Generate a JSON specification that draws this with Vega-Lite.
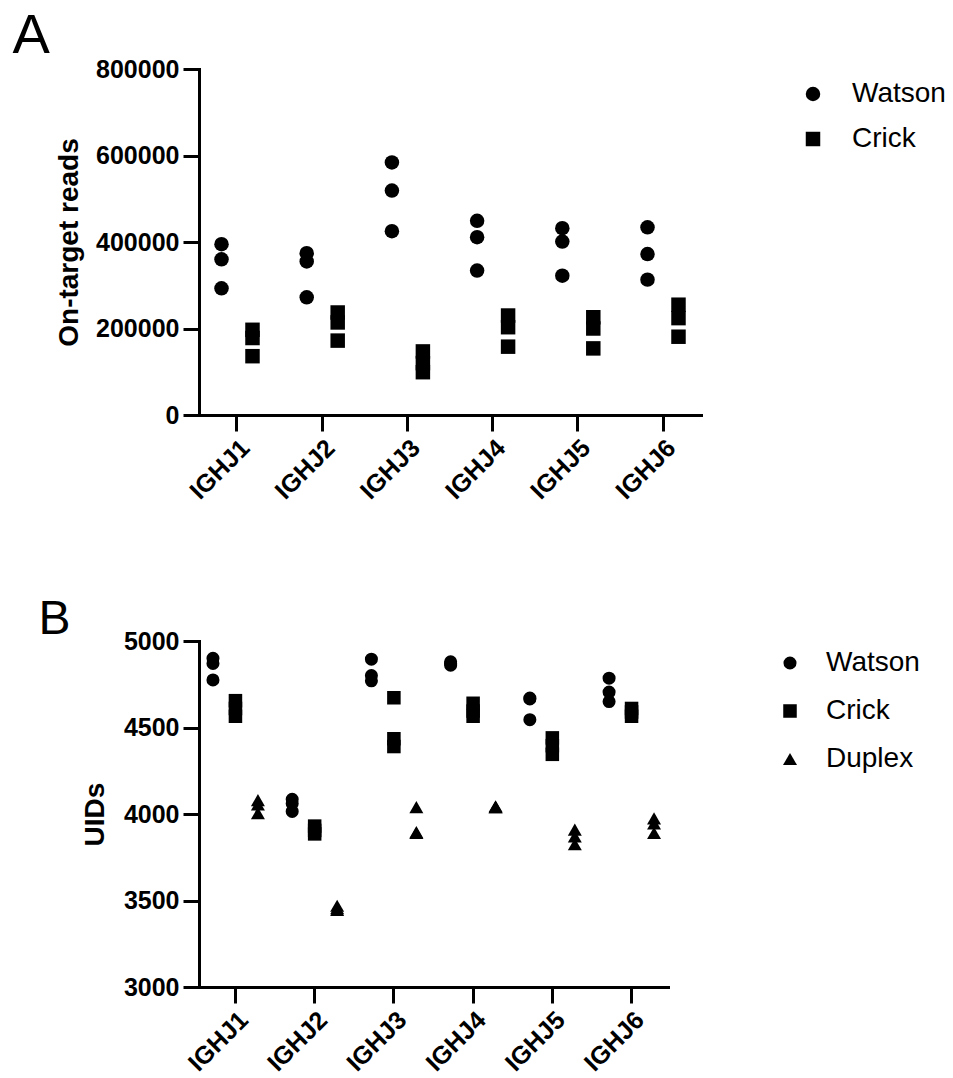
{
  "$schema": "https://vega.github.io/schema/vega-lite/v6.json",
  "padding": {"left": 12, "top": 8, "right": 2, "bottom": 5},
  "background": "white",
  "config": {
    "font": "Liberation Sans",
    "view": {"stroke": null},
    "axis": {
      "domainColor": "black", "domainWidth": 3, "domainCap": "square",
      "tickColor": "black", "tickWidth": 3, "tickSize": 16,
      "labelFontSize": 25, "labelFontWeight": "bold", "labelColor": "black", "labelPadding": 4,
      "titleFontSize": 28, "titleFontWeight": "bold", "titleColor": "black",
      "grid": false
    },
    "legend": {
      "title": null, "padding": 0, "labelFontSize": 28, "labelColor": "black",
      "labelFont": "Liberation Sans", "symbolFillColor": "black", "symbolStrokeColor": "black",
      "symbolType": "circle"
    },
    "title": {"font": "Liberation Sans", "fontWeight": "normal", "color": "black"}
  },
  "resolve": {
    "scale": {"x": "independent", "xOffset": "independent", "y": "independent", "shape": "independent", "size": "independent"},
    "legend": {"shape": "independent", "size": "independent"}
  },
  "datasets": {
    "a": [
      {"gene": "IGHJ1", "strand": "Watson", "reads": 395000},
      {"gene": "IGHJ1", "strand": "Watson", "reads": 360000},
      {"gene": "IGHJ1", "strand": "Watson", "reads": 293000},
      {"gene": "IGHJ1", "strand": "Crick", "reads": 197000},
      {"gene": "IGHJ1", "strand": "Crick", "reads": 178000},
      {"gene": "IGHJ1", "strand": "Crick", "reads": 136000},
      {"gene": "IGHJ2", "strand": "Watson", "reads": 374000},
      {"gene": "IGHJ2", "strand": "Watson", "reads": 355000},
      {"gene": "IGHJ2", "strand": "Watson", "reads": 272000},
      {"gene": "IGHJ2", "strand": "Crick", "reads": 237000},
      {"gene": "IGHJ2", "strand": "Crick", "reads": 214000},
      {"gene": "IGHJ2", "strand": "Crick", "reads": 172000},
      {"gene": "IGHJ3", "strand": "Watson", "reads": 584000},
      {"gene": "IGHJ3", "strand": "Watson", "reads": 519000},
      {"gene": "IGHJ3", "strand": "Watson", "reads": 425000},
      {"gene": "IGHJ3", "strand": "Crick", "reads": 147000},
      {"gene": "IGHJ3", "strand": "Crick", "reads": 120000},
      {"gene": "IGHJ3", "strand": "Crick", "reads": 99000},
      {"gene": "IGHJ4", "strand": "Watson", "reads": 449000},
      {"gene": "IGHJ4", "strand": "Watson", "reads": 411000},
      {"gene": "IGHJ4", "strand": "Watson", "reads": 334000},
      {"gene": "IGHJ4", "strand": "Crick", "reads": 230000},
      {"gene": "IGHJ4", "strand": "Crick", "reads": 203000},
      {"gene": "IGHJ4", "strand": "Crick", "reads": 158000},
      {"gene": "IGHJ5", "strand": "Watson", "reads": 432000},
      {"gene": "IGHJ5", "strand": "Watson", "reads": 401000},
      {"gene": "IGHJ5", "strand": "Watson", "reads": 322000},
      {"gene": "IGHJ5", "strand": "Crick", "reads": 226000},
      {"gene": "IGHJ5", "strand": "Crick", "reads": 200000},
      {"gene": "IGHJ5", "strand": "Crick", "reads": 154000},
      {"gene": "IGHJ6", "strand": "Watson", "reads": 434000},
      {"gene": "IGHJ6", "strand": "Watson", "reads": 372000},
      {"gene": "IGHJ6", "strand": "Watson", "reads": 313000},
      {"gene": "IGHJ6", "strand": "Crick", "reads": 255000},
      {"gene": "IGHJ6", "strand": "Crick", "reads": 224000},
      {"gene": "IGHJ6", "strand": "Crick", "reads": 181000}
    ],
    "b": [
      {"gene": "IGHJ1", "strand": "Watson", "uids": 4900},
      {"gene": "IGHJ1", "strand": "Watson", "uids": 4870},
      {"gene": "IGHJ1", "strand": "Watson", "uids": 4775},
      {"gene": "IGHJ1", "strand": "Crick", "uids": 4655},
      {"gene": "IGHJ1", "strand": "Crick", "uids": 4610},
      {"gene": "IGHJ1", "strand": "Crick", "uids": 4565},
      {"gene": "IGHJ1", "strand": "Duplex", "uids": 4080},
      {"gene": "IGHJ1", "strand": "Duplex", "uids": 4055},
      {"gene": "IGHJ1", "strand": "Duplex", "uids": 4005},
      {"gene": "IGHJ2", "strand": "Watson", "uids": 4085},
      {"gene": "IGHJ2", "strand": "Watson", "uids": 4060},
      {"gene": "IGHJ2", "strand": "Watson", "uids": 4015},
      {"gene": "IGHJ2", "strand": "Crick", "uids": 3930},
      {"gene": "IGHJ2", "strand": "Crick", "uids": 3905},
      {"gene": "IGHJ2", "strand": "Crick", "uids": 3885},
      {"gene": "IGHJ2", "strand": "Duplex", "uids": 3470},
      {"gene": "IGHJ2", "strand": "Duplex", "uids": 3455},
      {"gene": "IGHJ2", "strand": "Duplex", "uids": 3445},
      {"gene": "IGHJ3", "strand": "Watson", "uids": 4895},
      {"gene": "IGHJ3", "strand": "Watson", "uids": 4800},
      {"gene": "IGHJ3", "strand": "Watson", "uids": 4770},
      {"gene": "IGHJ3", "strand": "Crick", "uids": 4672},
      {"gene": "IGHJ3", "strand": "Crick", "uids": 4435},
      {"gene": "IGHJ3", "strand": "Crick", "uids": 4390},
      {"gene": "IGHJ3", "strand": "Duplex", "uids": 4040},
      {"gene": "IGHJ3", "strand": "Duplex", "uids": 3895},
      {"gene": "IGHJ3", "strand": "Duplex", "uids": 3890},
      {"gene": "IGHJ4", "strand": "Watson", "uids": 4880},
      {"gene": "IGHJ4", "strand": "Watson", "uids": 4870},
      {"gene": "IGHJ4", "strand": "Watson", "uids": 4860},
      {"gene": "IGHJ4", "strand": "Crick", "uids": 4640},
      {"gene": "IGHJ4", "strand": "Crick", "uids": 4595},
      {"gene": "IGHJ4", "strand": "Crick", "uids": 4565},
      {"gene": "IGHJ4", "strand": "Duplex", "uids": 4045},
      {"gene": "IGHJ4", "strand": "Duplex", "uids": 4040},
      {"gene": "IGHJ4", "strand": "Duplex", "uids": 4040},
      {"gene": "IGHJ5", "strand": "Watson", "uids": 4670},
      {"gene": "IGHJ5", "strand": "Watson", "uids": 4665},
      {"gene": "IGHJ5", "strand": "Watson", "uids": 4545},
      {"gene": "IGHJ5", "strand": "Crick", "uids": 4440},
      {"gene": "IGHJ5", "strand": "Crick", "uids": 4395},
      {"gene": "IGHJ5", "strand": "Crick", "uids": 4345},
      {"gene": "IGHJ5", "strand": "Duplex", "uids": 3910},
      {"gene": "IGHJ5", "strand": "Duplex", "uids": 3870},
      {"gene": "IGHJ5", "strand": "Duplex", "uids": 3825},
      {"gene": "IGHJ6", "strand": "Watson", "uids": 4785},
      {"gene": "IGHJ6", "strand": "Watson", "uids": 4705},
      {"gene": "IGHJ6", "strand": "Watson", "uids": 4650},
      {"gene": "IGHJ6", "strand": "Crick", "uids": 4610},
      {"gene": "IGHJ6", "strand": "Crick", "uids": 4590},
      {"gene": "IGHJ6", "strand": "Crick", "uids": 4565},
      {"gene": "IGHJ6", "strand": "Duplex", "uids": 3975},
      {"gene": "IGHJ6", "strand": "Duplex", "uids": 3945},
      {"gene": "IGHJ6", "strand": "Duplex", "uids": 3890}
    ]
  },
  "spacing": 92,
  "vconcat": [
    {
      "title": {"text": "A", "anchor": "start", "frame": "bounds", "fontSize": 56, "baseline": "bottom", "offset": -64, "dx": -43},
      "width": 502,
      "height": 346,
      "data": {"name": "a"},
      "mark": {"type": "point", "filled": true, "color": "black", "opacity": 1, "size": 210},
      "encoding": {
        "x": {
          "field": "gene", "type": "nominal", "sort": ["IGHJ1", "IGHJ2", "IGHJ3", "IGHJ4", "IGHJ5", "IGHJ6"],
          "scale": {"paddingInner": 0.2, "paddingOuter": 0.046},
          "axis": {"title": null, "labelAngle": -45}
        },
        "xOffset": {
          "field": "strand", "type": "nominal", "sort": ["Watson", "Crick"],
          "scale": {"padding": 0.6}
        },
        "y": {
          "field": "reads", "type": "quantitative",
          "scale": {"domain": [0, 800000], "nice": false},
          "axis": {"title": "On-target reads", "values": [0, 200000, 400000, 600000, 800000], "format": "d", "titlePadding": 12}
        },
        "shape": {
          "field": "strand", "type": "nominal", "sort": ["Watson", "Crick"],
          "scale": {"domain": ["Watson", "Crick"], "range": ["circle", "square"]},
          "legend": {"orient": "none", "legendX": 600, "legendY": 11, "symbolSize": 210, "labelOffset": 25, "rowPadding": 17}
        }
      }
    },
    {
      "title": {"text": "B", "anchor": "start", "frame": "bounds", "fontSize": 48, "baseline": "bottom", "offset": -63, "dx": -43},
      "width": 469,
      "height": 346,
      "data": {"name": "b"},
      "mark": {"type": "point", "filled": true, "color": "black", "opacity": 1},
      "encoding": {
        "x": {
          "field": "gene", "type": "nominal", "sort": ["IGHJ1", "IGHJ2", "IGHJ3", "IGHJ4", "IGHJ5", "IGHJ6"],
          "scale": {"paddingInner": 0.2, "paddingOuter": 0.06},
          "axis": {"title": null, "labelAngle": -45}
        },
        "xOffset": {
          "field": "strand", "type": "nominal", "sort": ["Watson", "Crick", "Duplex"],
          "scale": {"padding": 0.41}
        },
        "y": {
          "field": "uids", "type": "quantitative",
          "scale": {"domain": [3000, 5000], "nice": false, "zero": false},
          "axis": {"title": "UIDs", "values": [3000, 3500, 4000, 4500, 5000], "format": "d", "titlePadding": 14}
        },
        "shape": {
          "field": "strand", "type": "nominal", "sort": ["Watson", "Crick", "Duplex"],
          "scale": {"domain": ["Watson", "Crick", "Duplex"], "range": ["circle", "square", "triangle-up"]},
          "legend": {"orient": "none", "legendX": 577, "legendY": 8, "labelOffset": 22, "rowPadding": 20}
        },
        "size": {
          "field": "strand", "type": "nominal", "sort": ["Watson", "Crick", "Duplex"],
          "scale": {"domain": ["Watson", "Crick", "Duplex"], "range": [170, 196, 225]}
        }
      }
    }
  ]
}
